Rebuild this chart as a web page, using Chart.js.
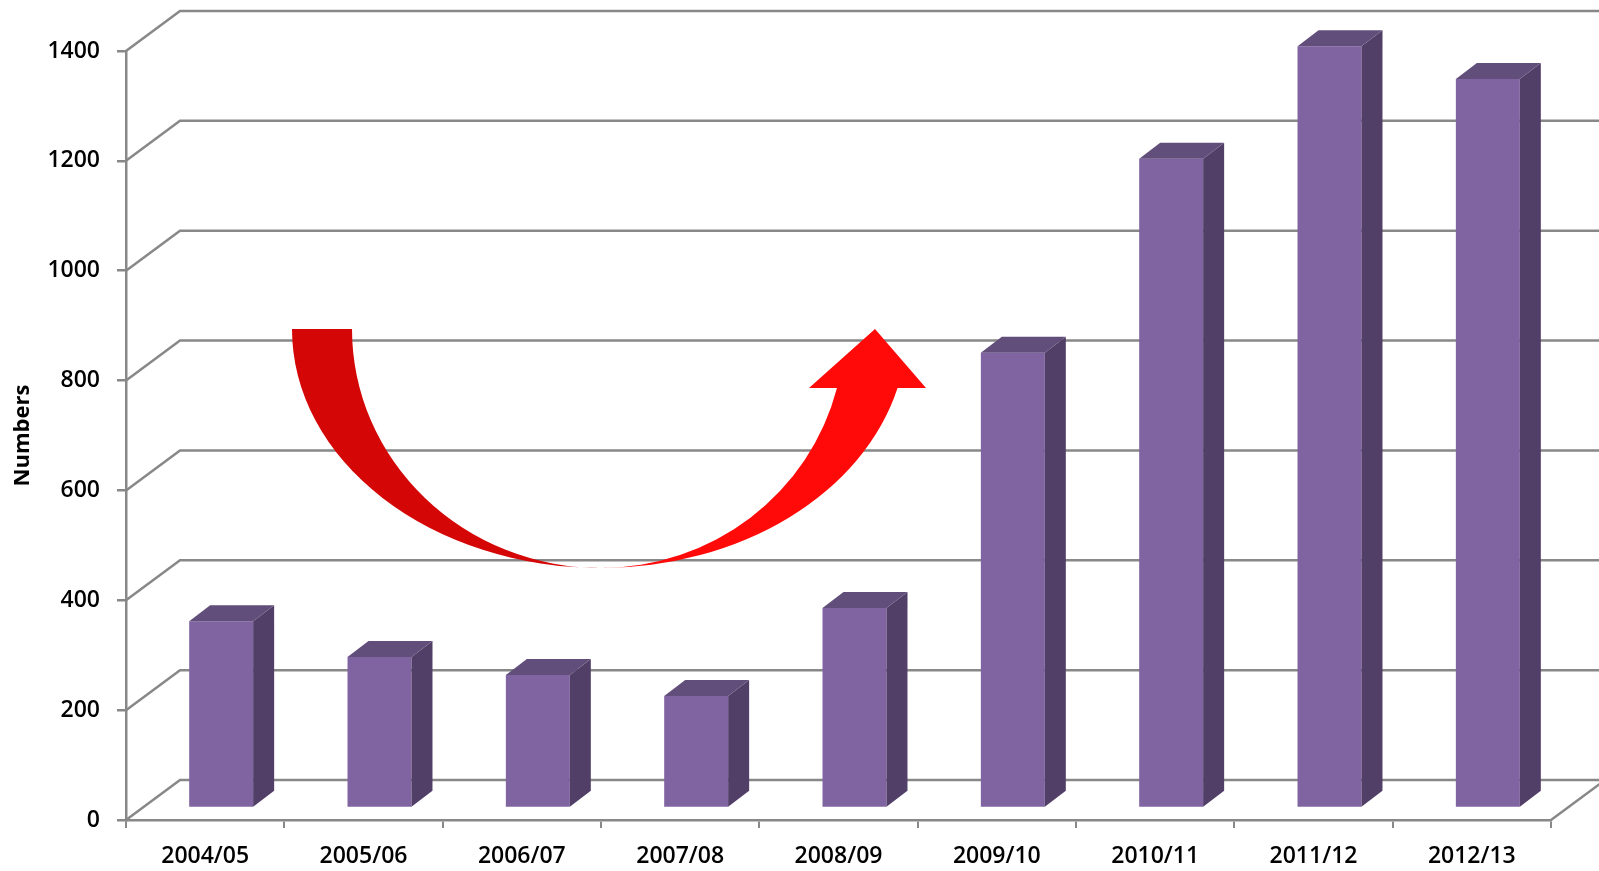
<!DOCTYPE html>
<html lang="en">
<head>
<meta charset="UTF-8">
<title>Numbers per year, 2004/05 to 2012/13</title>
<script src="https://cdn.jsdelivr.net/npm/chart.js"></script>
<style>
  html, body { margin: 0; padding: 0; background: #fff; }
  #wrap { width: 1599px; height: 871px; }
</style>
</head>
<body>
<div id="wrap"><canvas id="numChart"></canvas></div>
<script>
const years = ["2004/05", "2005/06", "2006/07", "2007/08", "2008/09", "2009/10", "2010/11", "2011/12", "2012/13"];
const numbers = [340, 275, 242, 204, 364, 829, 1182, 1387, 1327];
const yTicks = [0, 200, 400, 600, 800, 1000, 1200, 1400];

// 3D look, in pixels
const WALL = { dx: 54, dy: -40 };   // depth of floor and side wall
const BAR = { dx: 16, dy: -12 };    // bars stand a bit back from the front edge
const SIDE = { dx: 21, dy: -16 };   // depth of each bar

const gray = '#888888';
const frontColor = '#8064a2', topColor = '#614e7a', sideColor = '#513f67';

function drawArrow(ctx) {
  const cx = 601, cy = 329, ry = 239;
  ctx.save();
  ctx.fillStyle = '#d40606';
  ctx.beginPath();
  ctx.ellipse(cx, cy, 309, ry, 0, Math.PI, Math.PI / 2, true);
  ctx.ellipse(cx, cy, 249, ry, 0, Math.PI / 2, Math.PI, false);
  ctx.closePath();
  ctx.fill();

  const t = Math.asin(59 / ry);
  ctx.fillStyle = '#ff0909';
  ctx.beginPath();
  ctx.ellipse(cx, cy, 306, ry, 0, Math.PI / 2, t, true);
  ctx.lineTo(926, 388);
  ctx.lineTo(875, 329);
  ctx.lineTo(809, 388);
  ctx.ellipse(cx, cy, 243.5, ry, 0, t, Math.PI / 2, false);
  ctx.closePath();
  ctx.fill();
  ctx.restore();
}

const depth3d = {
  id: 'depth3d',
  beforeDatasetsDraw(chart) {
    const { ctx, chartArea: a, scales: { y } } = chart;
    ctx.save();
    ctx.strokeStyle = gray;
    ctx.lineWidth = 2.5;
    ctx.beginPath();
    yTicks.forEach(v => {
      const py = y.getPixelForValue(v);
      ctx.moveTo(a.left, py);
      ctx.lineTo(a.left + WALL.dx, py + WALL.dy);
      ctx.lineTo(chart.width + 10, py + WALL.dy);
    });
    ctx.moveTo(a.right, a.bottom);
    ctx.lineTo(a.right + WALL.dx, a.bottom + WALL.dy);
    ctx.stroke();
    ctx.restore();

    // front faces come from chart.js, just pushed back into the floor
    ctx.save();
    ctx.translate(BAR.dx, BAR.dy);
  },
  afterDatasetsDraw(chart) {
    const ctx = chart.ctx;
    ctx.restore();
    chart.getDatasetMeta(0).data.forEach(el => {
      const x0 = el.x - el.width / 2 + BAR.dx;
      const x1 = el.x + el.width / 2 + BAR.dx;
      const yt = el.y + BAR.dy;
      const yb = el.base + BAR.dy;
      ctx.fillStyle = sideColor;
      ctx.beginPath();
      ctx.moveTo(x1, yt);
      ctx.lineTo(x1 + SIDE.dx, yt + SIDE.dy);
      ctx.lineTo(x1 + SIDE.dx, yb + SIDE.dy);
      ctx.lineTo(x1, yb);
      ctx.closePath();
      ctx.fill();
      ctx.fillStyle = topColor;
      ctx.beginPath();
      ctx.moveTo(x0, yt);
      ctx.lineTo(x0 + SIDE.dx, yt + SIDE.dy);
      ctx.lineTo(x1 + SIDE.dx, yt + SIDE.dy);
      ctx.lineTo(x1, yt);
      ctx.closePath();
      ctx.fill();
    });
    drawArrow(ctx);
  }
};

const tickFont = { family: "'Open Sans', sans-serif", size: 23, weight: '600' };

new Chart(document.getElementById('numChart'), {
  type: 'bar',
  data: {
    labels: years,
    datasets: [{
      data: numbers,
      backgroundColor: frontColor,
      borderWidth: 0,
      categoryPercentage: 1,
      barPercentage: 0.404,
      clip: false
    }]
  },
  options: {
    responsive: true,
    maintainAspectRatio: false,
    animation: false,
    layout: { padding: { top: 51, right: 48, left: 0, bottom: 0 } },
    plugins: { legend: { display: false }, tooltip: { enabled: false } },
    scales: {
      x: {
        offset: true,
        grid: { drawOnChartArea: false, offset: true, color: gray, lineWidth: 2, tickLength: 8 },
        border: { color: gray, width: 2.5 },
        ticks: { color: '#000', font: tickFont, padding: 15, maxRotation: 0, autoSkip: false },
        afterFit: s => { s.height = 51; }
      },
      y: {
        min: 0,
        max: 1400,
        afterBuildTicks: s => { s.ticks = yTicks.map(v => ({ value: v })); },
        grid: { drawOnChartArea: false, color: gray, lineWidth: 2.5, tickLength: 9 },
        border: { color: gray, width: 2.5 },
        ticks: { color: '#000', font: tickFont, padding: 17, callback: v => String(v) },
        title: {
          display: true,
          text: 'Numbers',
          color: '#000',
          font: { family: "'Open Sans', sans-serif", size: 22, weight: 'bold' },
          padding: { top: 10 }
        },
        afterFit: s => { s.width = 126; }
      }
    }
  },
  plugins: [depth3d]
});
</script>
</body>
</html>
